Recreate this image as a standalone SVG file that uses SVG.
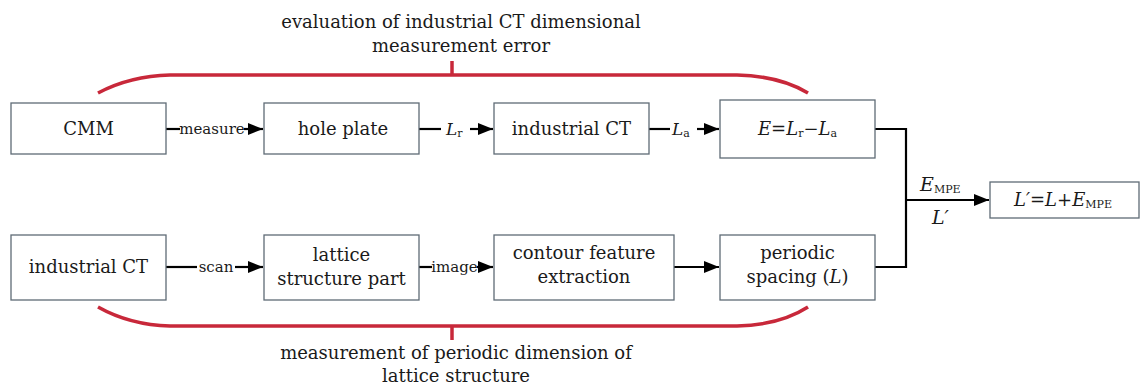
<svg xmlns="http://www.w3.org/2000/svg" width="1140" height="389" viewBox="0 0 1140 389">
<defs>
<style>
.box{fill:#fff;stroke:#5f6b76;stroke-width:1.3}
.t{font-family:'DejaVu Serif','Liberation Serif',serif;font-size:18px;fill:#1a1a1a;text-anchor:middle}
.lbl{font-family:'DejaVu Serif','Liberation Serif',serif;font-size:15px;fill:#1a1a1a}
.c{fill:none;stroke:#000;stroke-width:2.2}
.br{fill:none;stroke:#c8283a;stroke-width:3.5}
.i{font-style:italic}
</style>
<marker id="ahb" viewBox="0 0 10 10" refX="10" refY="5" markerWidth="15" markerHeight="15" markerUnits="userSpaceOnUse" orient="auto"><path d="M0,1L10,5L0,9z" fill="#000"/></marker>
</defs>
<g id="braces">
<path class="br" d="M98,93 Q130,76 170,75 L737,75 Q780,76 808,93"/>
<path class="br" d="M452,75 L452,61"/>
<path class="br" d="M98,307 Q130,325 170,326 L737,326 Q780,325 808,307"/>
<path class="br" d="M452,326 L452,340"/>
<text class="t" x="461" y="28">evaluation of industrial CT dimensional</text>
<text class="t" x="461" y="52">measurement error</text>
<text class="t" x="456" y="359">measurement of periodic dimension of</text>
<text class="t" x="456" y="382">lattice structure</text>
</g>
<g id="connectors">
<path class="c" d="M166,129 H180"/><path class="c" d="M244,129 H263" marker-end="url(#ahb)"/>
<text class="lbl" x="212" y="134" text-anchor="middle">measure</text>
<path class="c" d="M419,129 H441"/><path class="c" d="M470,129 H493" marker-end="url(#ahb)"/>
<text class="lbl i" x="446" y="135" style="font-size:17px">L<tspan style="font-size:11px;font-style:normal" dy="2">r</tspan></text>
<path class="c" d="M649,129 H670"/><path class="c" d="M697,129 H719" marker-end="url(#ahb)"/>
<text class="lbl i" x="672" y="135" style="font-size:17px">L<tspan style="font-size:11px;font-style:normal" dy="2">a</tspan></text>
<path class="c" d="M166,267 H197"/><path class="c" d="M235,267 H263" marker-end="url(#ahb)"/>
<text class="lbl" x="216" y="272" text-anchor="middle">scan</text>
<path class="c" d="M419,267 H432"/><path class="c" d="M477,267 H493" marker-end="url(#ahb)"/>
<text class="lbl" x="454.5" y="272" text-anchor="middle">image</text>
<path class="c" d="M674,267 H719" marker-end="url(#ahb)"/>
<path class="c" d="M875,129 H906 V267 H875"/>
<path class="c" d="M906,200 H989" marker-end="url(#ahb)"/>
<text class="lbl i" x="920" y="191" style="font-size:19px">E<tspan style="font-size:11px;font-style:normal" dy="2">MPE</tspan></text>
<text class="lbl i" x="932" y="224" style="font-size:19px">L′</text>
</g>
<g id="n-cmm"><rect class="box" x="11" y="103" width="155" height="51"/><text class="t" x="88.5" y="135">CMM</text></g>
<g id="n-hole"><rect class="box" x="264" y="103" width="155" height="51"/><text class="t" x="343" y="135">hole plate</text></g>
<g id="n-ct1"><rect class="box" x="494" y="103" width="155" height="51"/><text class="t" x="571.5" y="135">industrial CT</text></g>
<g id="n-e"><rect class="box" x="720" y="100" width="155" height="58"/><text class="t i" x="797.5" y="135">E=L<tspan style="font-size:11px;font-style:normal" dy="2">r</tspan><tspan dy="-2">−L</tspan><tspan style="font-size:11px;font-style:normal" dy="2">a</tspan></text></g>
<g id="n-lp"><rect class="box" x="990" y="182" width="149" height="36"/><text class="t i" x="1063" y="206">L′=L+E<tspan style="font-size:11px;font-style:normal" dy="2">MPE</tspan></text></g>
<g id="n-ct2"><rect class="box" x="11" y="235" width="155" height="65"/><text class="t" x="88.5" y="273">industrial CT</text></g>
<g id="n-lat"><rect class="box" x="264" y="235" width="155" height="65"/><text class="t" x="341.5" y="261">lattice</text><text class="t" x="341.5" y="285">structure part</text></g>
<g id="n-cont"><rect class="box" x="494" y="235" width="180" height="65"/><text class="t" x="584" y="259">contour feature</text><text class="t" x="584" y="283">extraction</text></g>
<g id="n-per"><rect class="box" x="720" y="235" width="155" height="65"/><text class="t" x="797.5" y="259">periodic</text><text class="t" x="797.5" y="283">spacing (<tspan style="font-style:italic">L</tspan>)</text></g>
</svg>
